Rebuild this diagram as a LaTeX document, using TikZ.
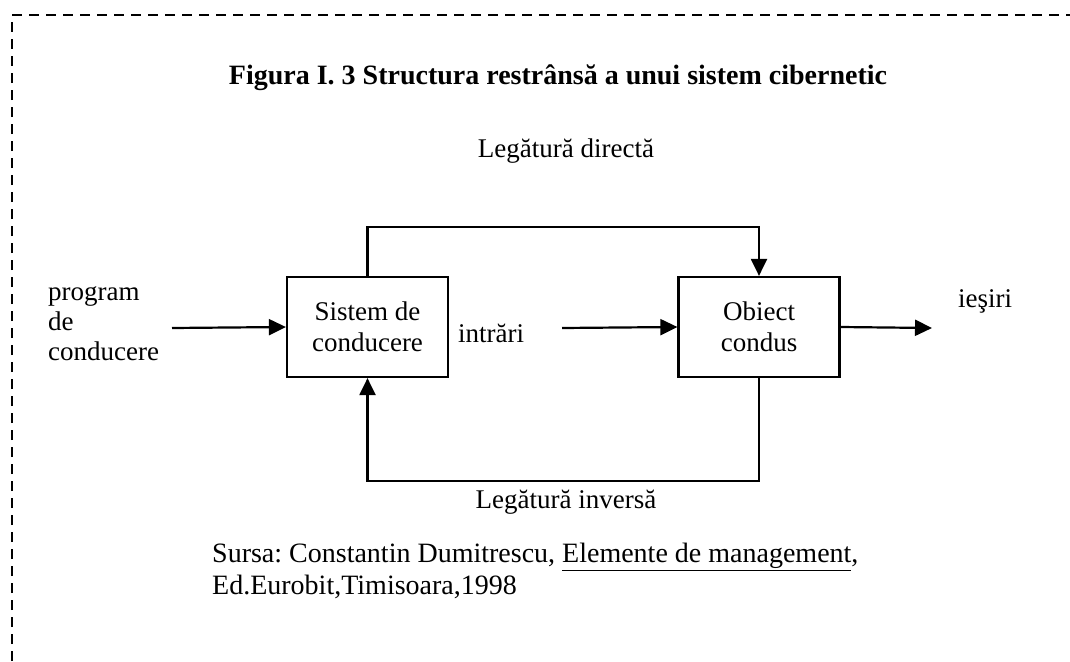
\documentclass[tikz,border=0pt]{standalone}
\usepackage{fontspec}
\setmainfont{Liberation Serif}
\usetikzlibrary{arrows.meta}
\frenchspacing
\begin{document}
\begin{tikzpicture}[x=1pt,y=-1pt,
  box/.style={draw, line width=2.2pt, minimum width=161pt, minimum height=100pt,
    inner sep=0pt, align=center, font=\fontsize{27}{31}\selectfont},
  lbl/.style={inner sep=0pt, font=\fontsize{27}{30}\selectfont},
  link/.style={line width=2.2pt, -{Triangle[length=17pt,width=16pt]}},
  frame/.style={line width=1.8pt, dash pattern=on 10pt off 7pt}]
\useasboundingbox (0,0) rectangle (1070,661);
% dashed frame along the top and left
\draw[frame] (12,661) -- (12,15) -- (1070,15);
% title
\node[lbl, font=\fontsize{28}{30}\selectfont\bfseries] (title) at (558,78)
  {Figura I. 3 Structura restrânsă a unui sistem cibernetic};
% the two blocks
\node[box] (sc) at (367.5,327) {Sistem de\\conducere};
\node[box] (oc) at (759,327) {Obiect\\condus};
% labels
\node[lbl, align=left, anchor=west] (prog) at (48,324) {program\\de\\conducere};
\node[lbl] (intr) at (491,333) {intrări};
\node[lbl] (ies) at (985,301) {ieşiri};
\node[lbl] (dir) at (566,151) {Legătură directă};
\node[lbl] (inv) at (566,502) {Legătură inversă};
\node[lbl, align=left, anchor=west, font=\fontsize{28}{32}\selectfont] (src) at (212,571)
  {Sursa: Constantin Dumitrescu, \underline{Elemente de management},\\
   Ed.Eurobit,Timisoara,1998};
% connector end points
\coordinate (in0) at (172,328);
\coordinate (mid0) at (562,328);
\coordinate (out1) at (932,328);
\coordinate (top) at (0,227);
\coordinate (bot) at (0,481);
% connectors
\draw[link] (in0) -- (sc.west);
\draw[link] (mid0) -- (oc.west);
\draw[link] (oc.east) -- (out1);
\draw[link] (sc.north) -- (sc.north |- top) -- (oc.north |- top) -- (oc.north);
\draw[link] (oc.south) -- (oc.south |- bot) -- (sc.south |- bot) -- (sc.south);
\end{tikzpicture}
\end{document}
